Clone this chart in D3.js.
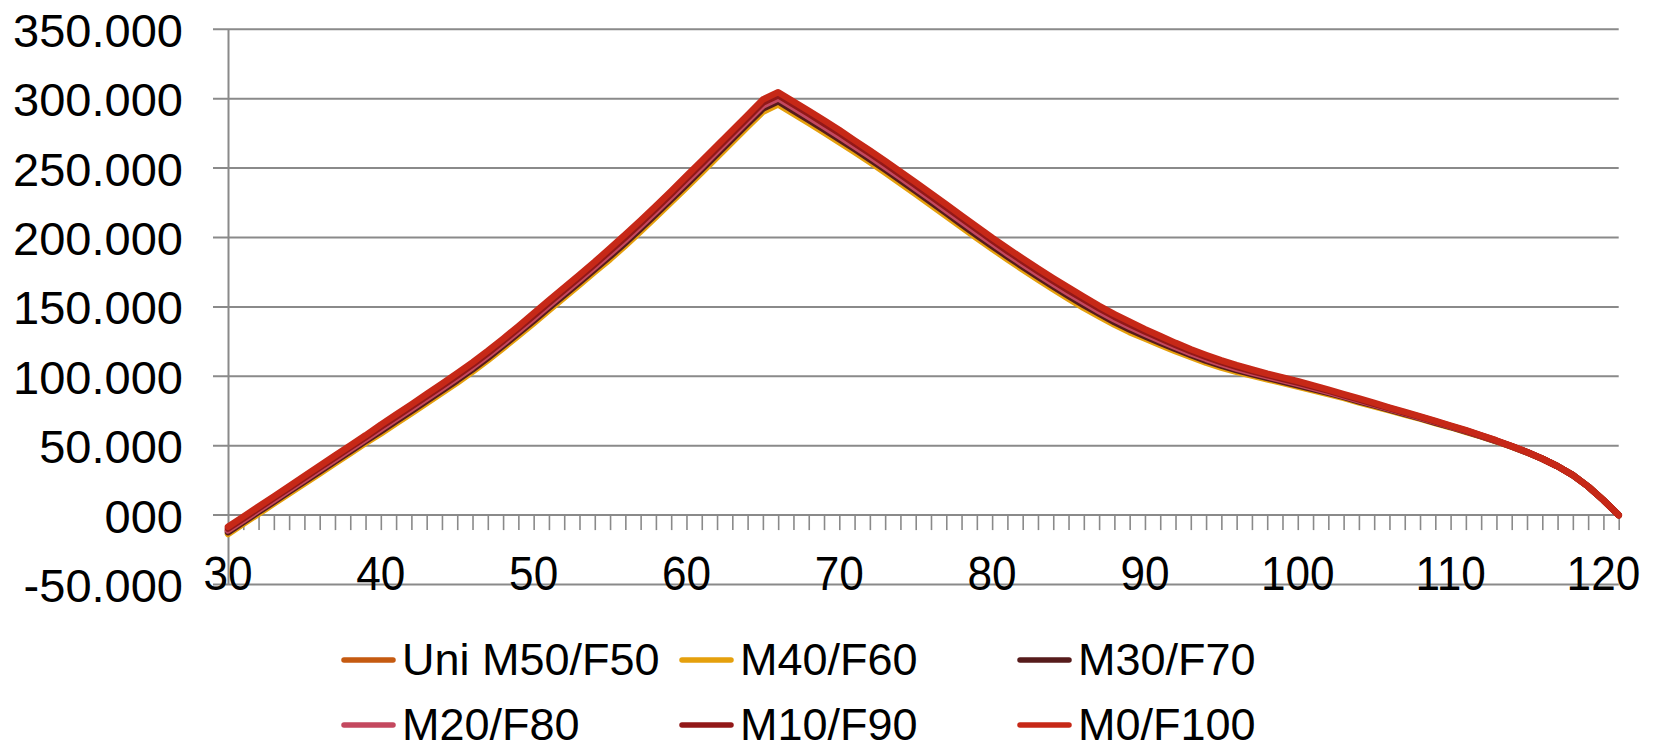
<!DOCTYPE html>
<html>
<head>
<meta charset="utf-8">
<script src="https://cdn.jsdelivr.net/npm/d3@7"></script>
<style>
  html, body { margin: 0; padding: 0; background: #ffffff; }
  svg { display: block; font-family: "Liberation Sans", Arial, sans-serif; }
</style>
</head>
<body>
<svg id="chart" width="1656" height="749"></svg>
<script>
// Age categories (x axis)
const ages = [30,31,32,33,34,35,36,37,38,39,40,41,42,43,44,45,46,47,48,49,
  50,51,52,53,54,55,56,57,58,59,60,61,62,63,64,65,66,67,68,69,
  70,71,72,73,74,75,76,77,78,79,80,81,82,83,84,85,86,87,88,89,
  90,91,92,93,94,95,96,97,98,99,100,101,102,103,104,105,106,107,108,109,
  110,111,112,113,114,115,116,117,118,119,120,121];

// Series values (thousands)
const uniM50F50 = [-11.0,-3.7,3.6,10.9,18.2,25.5,32.8,40.1,47.4,54.7,
  62.0,69.3,76.6,84.0,91.4,98.9,106.7,115.0,123.7,132.7,
  141.9,151.2,160.4,169.6,178.9,188.4,198.2,208.4,218.8,229.4,
  240.2,251.1,262.1,273.1,284.1,295.0,300.3,293.6,286.9,280.0,
  273.0,265.8,258.5,251.0,243.3,235.5,227.6,219.6,211.6,203.7,
  195.9,188.3,180.9,173.7,166.7,159.9,153.3,147.0,141.0,135.6,
  130.6,125.8,121.1,116.7,112.6,108.9,105.6,102.7,99.9,97.2,
  94.5,91.7,88.8,85.8,82.7,79.6,76.5,73.4,70.3,67.1,
  63.9,60.6,57.1,53.4,49.5,45.3,40.6,35.2,28.8,20.6,
  10.8,0];

const m40F60 = [-13.6,-6.3,1.0,8.3,15.6,22.7,30.0,37.3,44.6,51.9,
  58.8,66.1,73.4,80.8,88.2,95.5,103.3,111.6,120.3,129.3,
  138.3,147.6,156.8,166.0,175.3,184.4,194.2,204.4,214.8,225.4,
  236.0,246.9,257.9,268.9,279.9,290.6,295.9,289.2,282.5,275.6,
  268.6,261.6,254.3,246.8,239.1,231.3,223.4,215.4,207.4,199.5,
  191.9,184.3,176.9,169.7,162.7,155.9,149.3,143.2,137.2,131.8,
  127.2,122.6,118.1,113.9,109.8,106.3,103.2,100.5,97.9,95.2,
  92.5,89.9,87.2,84.4,81.3,78.4,75.5,72.4,69.5,66.3,
  63.3,60.0,56.7,53.0,49.3,45.1,40.6,35.2,28.8,20.6,
  10.8,0];

const m30F70 = [-12.3,-5.0,2.3,9.6,16.9,24.1,31.4,38.7,46.0,53.3,
  60.4,67.7,75.0,82.4,89.8,97.2,105.0,113.3,122.0,131.0,
  140.1,149.4,158.6,167.8,177.1,186.4,196.2,206.4,216.8,227.4,
  238.1,249.0,260.0,271.0,282.0,292.8,298.1,291.4,284.7,277.8,
  270.8,263.7,256.4,248.9,241.2,233.4,225.5,217.5,209.5,201.6,
  193.9,186.3,178.9,171.7,164.7,157.9,151.3,145.1,139.1,133.7,
  128.9,124.2,119.6,115.3,111.2,107.6,104.4,101.6,98.9,96.2,
  93.5,90.8,88.0,85.1,82.0,79.0,76.0,72.9,69.9,66.7,
  63.6,60.3,56.9,53.2,49.4,45.2,40.6,35.2,28.8,20.6,
  10.8,0];

const m20F80 = [-11.0,-3.7,3.6,10.9,18.2,25.5,32.8,40.1,47.4,54.7,
  62.0,69.3,76.6,84.0,91.4,98.9,106.7,115.0,123.7,132.7,
  141.9,151.2,160.4,169.6,178.9,188.4,198.2,208.4,218.8,229.4,
  240.2,251.1,262.1,273.1,284.1,295.0,300.3,293.6,286.9,280.0,
  273.0,265.8,258.5,251.0,243.3,235.5,227.6,219.6,211.6,203.7,
  195.9,188.3,180.9,173.7,166.7,159.9,153.3,147.0,141.0,135.6,
  130.6,125.8,121.1,116.7,112.6,108.9,105.6,102.7,99.9,97.2,
  94.5,91.7,88.8,85.8,82.7,79.6,76.5,73.4,70.3,67.1,
  63.9,60.6,57.1,53.4,49.5,45.3,40.6,35.2,28.8,20.6,
  10.8,0];

const m10F90 = [-9.7,-2.4,4.9,12.2,19.5,26.9,34.2,41.5,48.8,56.1,
  63.6,70.9,78.2,85.6,93.0,100.6,108.4,116.7,125.4,134.4,
  143.7,153.0,162.2,171.4,180.7,190.4,200.2,210.4,220.8,231.4,
  242.3,253.2,264.2,275.2,286.2,297.2,302.5,295.8,289.1,282.2,
  275.2,267.9,260.6,253.1,245.4,237.6,229.7,221.7,213.7,205.8,
  197.9,190.3,182.9,175.7,168.7,161.9,155.3,148.9,142.9,137.5,
  132.3,127.4,122.6,118.1,114.0,110.2,106.8,103.8,100.9,98.2,
  95.5,92.6,89.6,86.5,83.4,80.2,77.0,73.9,70.7,67.5,
  64.2,60.9,57.3,53.6,49.6,45.4,40.6,35.2,28.8,20.6,
  10.8,0];

const m0F100 = [-8.4,-1.1,6.2,13.5,20.8,28.3,35.6,42.9,50.2,57.5,
  65.2,72.5,79.8,87.2,94.6,102.3,110.1,118.4,127.1,136.1,
  145.5,154.8,164.0,173.2,182.5,192.4,202.2,212.4,222.8,233.4,
  244.4,255.3,266.3,277.3,288.3,299.4,304.7,298.0,291.3,284.4,
  277.4,270.0,262.7,255.2,247.5,239.7,231.8,223.8,215.8,207.9,
  199.9,192.3,184.9,177.7,170.7,163.9,157.3,150.8,144.8,139.4,
  134.0,129.0,124.1,119.5,115.4,111.5,108.0,104.9,101.9,99.2,
  96.5,93.5,90.4,87.2,84.1,80.8,77.5,74.4,71.1,67.9,
  64.5,61.2,57.5,53.8,49.7,45.5,40.6,35.2,28.8,20.6,
  10.8,0];

const seriesNames = ["Uni M50/F50", "M40/F60", "M30/F70", "M20/F80", "M10/F90", "M0/F100"];
const seriesValues = [uniM50F50, m40F60, m30F70, m20F80, m10F90, m0F100];
const seriesColors = ["#C55A11", "#E5A00D", "#561B1B", "#C4485F", "#921818", "#C62817"];

// Axis ticks and labels
const yTickValues = [-50, 0, 50, 100, 150, 200, 250, 300, 350];
const yTickLabels = ["-50.000", "000", "50.000", "100.000", "150.000", "200.000", "250.000", "300.000", "350.000"];
const xLabelAges = [30, 40, 50, 60, 70, 80, 90, 100, 110, 120];
const xLabels = ["30", "40", "50", "60", "70", "80", "90", "100", "110", "120"];

const svg = d3.select("#chart");
const gridColor = "#8a8a8a";

const x = d3.scaleLinear().domain([30, 121]).range([228, 1618.7]);
const y = d3.scaleLinear().domain([-50, 350]).range([584.5, 29.3]);

// Horizontal gridlines (extend left as tick marks)
svg.append("g")
  .selectAll("line")
  .data(yTickValues)
  .join("line")
  .attr("x1", 213).attr("x2", x(121))
  .attr("y1", d => y(d)).attr("y2", d => y(d))
  .attr("stroke", gridColor).attr("stroke-width", 2);

// Minor category ticks along the zero line
const xAxis = d3.axisBottom(x).tickValues(ages.slice(1)).tickSize(15).tickFormat("");
const gx = svg.append("g").attr("transform", `translate(0,${y(0)})`).call(xAxis);
gx.select(".domain").remove();
gx.selectAll(".tick line").attr("stroke", gridColor).attr("stroke-width", 1.6);

// Y axis with value labels
const yAxis = d3.axisLeft(y).tickValues(yTickValues)
  .tickFormat((d, i) => yTickLabels[i]).tickSize(0).tickSizeOuter(0).tickPadding(45);
const gy = svg.append("g").attr("transform", `translate(${x(30)},0)`).call(yAxis);
gy.select(".domain").attr("stroke", gridColor).attr("stroke-width", 2);
gy.selectAll(".tick line").remove();
gy.selectAll(".tick text")
  .attr("fill", "#000")
  .attr("font-size", 47)
  .attr("font-family", "'Liberation Sans', Arial, sans-serif")
  .attr("dy", "0.36em");

// X labels
svg.append("g")
  .selectAll("g")
  .data(xLabelAges)
  .join("g")
  .attr("transform", d => `translate(${x(d)},590)`)
  .append("text")
  .attr("text-anchor", "middle")
  .attr("transform", "scale(0.92,1)")
  .attr("font-size", 48)
  .attr("fill", "#000")
  .text((d, i) => xLabels[i]);

// Series lines
const line = d3.line()
  .x((d, i) => x(ages[i]))
  .y(d => y(d));

svg.append("g")
  .selectAll("path")
  .data(seriesValues)
  .join("path")
  .attr("d", d => line(d))
  .attr("fill", "none")
  .attr("stroke", (d, i) => seriesColors[i])
  .attr("stroke-width", 6.5)
  .attr("stroke-linejoin", "round")
  .attr("stroke-linecap", "round");

// Legend: three columns, two rows
const legendCols = [344, 682, 1020];
const legendRows = [660, 725];
const legend = svg.append("g")
  .selectAll("g")
  .data(seriesNames)
  .join("g")
  .attr("transform", (d, i) => `translate(${legendCols[i % 3]},${legendRows[Math.floor(i / 3)]})`);

legend.append("line")
  .attr("x1", 0).attr("x2", 49)
  .attr("y1", 0).attr("y2", 0)
  .attr("stroke", (d, i) => seriesColors[i])
  .attr("stroke-width", 5.5)
  .attr("stroke-linecap", "round");

legend.append("text")
  .attr("x", 58)
  .attr("y", 15)
  .attr("font-size", 45)
  .attr("fill", "#000")
  .text(d => d);
</script>
</body>
</html>
